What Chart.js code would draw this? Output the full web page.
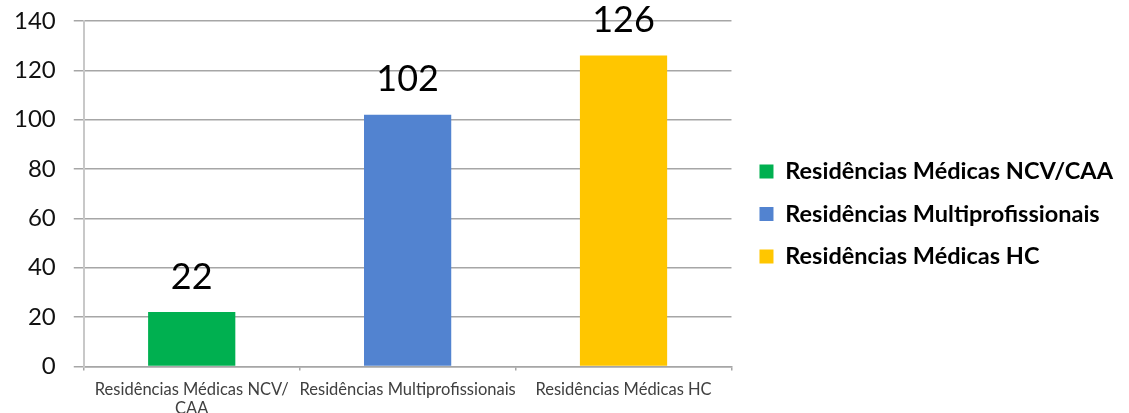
<!DOCTYPE html>
<html>
<head>
<meta charset="utf-8">
<script src="https://cdn.jsdelivr.net/npm/chart.js@4.4.0/dist/chart.umd.min.js"></script>
<style>
  html, body { margin: 0; padding: 0; background: #fff; }
  #wrap { width: 1129px; height: 413px; }
</style>
</head>
<body>
<div id="wrap"><canvas id="barChart"></canvas></div>
<script>
// categories and values
const categories = [['Residências Médicas NCV/', 'CAA'], 'Residências Multiprofissionais', 'Residências Médicas HC'];
const legendNames = ['Residências Médicas NCV/CAA', 'Residências Multiprofissionais', 'Residências Médicas HC'];
const values = [22, 102, 126];
const barColors = ['#00B050', '#5283D0', '#FFC600'];

// value labels above bars
const valueLabels = {
    id: 'valueLabels',
    afterDatasetsDraw(chart) {
        const ctx = chart.ctx;
        const meta = chart.getDatasetMeta(0);
        ctx.save();
        ctx.font = '36px Lato';
        ctx.fillStyle = '#000';
        ctx.textAlign = 'center';
        ctx.textBaseline = 'bottom';
        meta.data.forEach((bar, i) => {
            ctx.fillText(values[i], bar.x, bar.y - 17);
        });
        ctx.restore();
    }
};

// nudge the legend a bit right, like the excel layout
const legendNudge = {
    id: 'legendNudge',
    afterLayout(chart) {
        const lg = chart.legend;
        lg.left += 9; lg.right += 9;
    }
};

function draw() {
    const ctx = document.getElementById('barChart').getContext('2d');
    const barChart = new Chart(ctx, {
        type: 'bar',
        data: {
            labels: categories,
            datasets: [{
                data: values,
                backgroundColor: barColors,
                barPercentage: 0.404,
                categoryPercentage: 1
            }]
        },
        options: {
            responsive: true,
            maintainAspectRatio: false,
            animation: false,
            layout: { padding: { left: -4, top: 0, right: 15, bottom: -15 } },
            plugins: {
                tooltip: { enabled: false },
                legend: {
                    position: 'right',
                    align: 'center',
                    maxWidth: 460,
                    labels: {
                        font: { family: 'Lato', size: 23.5, weight: 'bold' },
                        color: '#111',
                        boxWidth: 14,
                        boxHeight: 14,
                        padding: 19,
                        generateLabels: () => legendNames.map((name, i) => ({
                            text: name,
                            fillStyle: barColors[i],
                            strokeStyle: barColors[i],
                            lineWidth: 0,
                            index: i
                        }))
                    }
                }
            },
            scales: {
                x: {
                    grid: {
                        offset: true,
                        drawOnChartArea: false,
                        color: '#A6A6A6',
                        lineWidth: 1.5,
                        tickLength: 4
                    },
                    border: { color: '#A6A6A6', width: 1.5 },
                    ticks: {
                        font: { family: 'Lato', size: 16.5 },
                        color: '#404040',
                        maxRotation: 0,
                        autoSkip: false,
                        padding: 9
                    }
                },
                y: {
                    min: 0,
                    max: 140,
                    afterFit(scale) { scale.paddingTop = 21; scale.paddingBottom = 0; },
                    ticks: {
                        stepSize: 20,
                        font: { family: 'Lato', size: 24 },
                        color: '#111',
                        padding: 18
                    },
                    grid: {
                        color: '#A6A6A6',
                        lineWidth: 1.5,
                        tickLength: 10
                    },
                    border: { color: '#C8C8C8', width: 2 }
                }
            }
        },
        plugins: [valueLabels, legendNudge]
    });
}

Promise.all([
    document.fonts.load('bold 23.5px Lato'),
    document.fonts.load('24px Lato'),
    document.fonts.load('36px Lato'),
    document.fonts.load('16.5px Lato')
]).then(draw, draw);
</script>
</body>
</html>
